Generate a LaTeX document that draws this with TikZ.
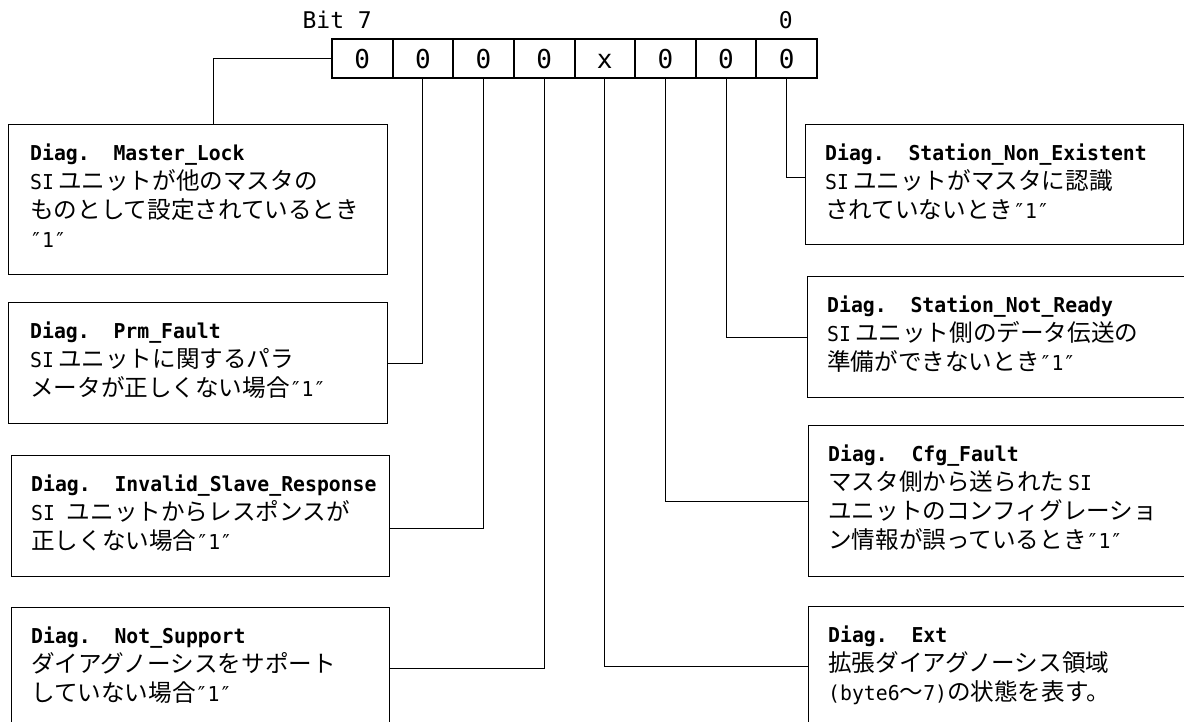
\documentclass[tikz,border=0pt]{standalone}
\usepackage{fontspec}
\setmainfont{DejaVu Sans Mono}
\newfontfamily\jpfont{Noto Sans CJK JP}
\newfontfamily\monofont[FakeStretch=0.965]{DejaVu Sans Mono}
\newfontfamily\regfont{DejaVu Sans Mono}
\newcommand\jtxt[1]{{\jpfont\fontsize{23.6}{29}\selectfont #1}}
\newcommand\fstrut{\rule{0pt}{20pt}}
\newcommand\sgap{\hspace{4pt}}
\begin{document}
\begin{tikzpicture}[x=1pt,y=-1pt,
  reg/.style={draw, line width=2pt, minimum width=60.625pt, minimum height=39pt,
    inner sep=0pt, anchor=north west, text height=21pt, text depth=0pt,
    font=\regfont\fontsize{26}{26}\selectfont},
  lbl/.style={inner sep=0pt, font=\regfont\fontsize{23}{23}\selectfont},
  box/.style={draw, line width=1.2pt, inner sep=0pt, anchor=north west},
  txt/.style={anchor=north west, inner sep=0pt, align=left,
    font=\monofont\fontsize{20.5}{29}\selectfont},
  conn/.style={line width=0.9pt}]
\useasboundingbox (0,0) rectangle (1184,722);
\clip (0,0) rectangle (1184,722);

% register
\foreach \v [count=\i from 0] in {0,0,0,0,x,0,0,0} {
  \pgfmathtruncatemacro\b{7-\i}
  \node[reg] (c\b) at ({331+\i*60.625},38) {\v};
}
\node[lbl, anchor=base east] (bit7) at (372,29) {Bit 7};
\node[lbl, anchor=base] (bit0) at (785.7,29) {0};

% left boxes
\node[box, minimum width=379pt, minimum height=150pt] (ml) at (8,124) {};
\node[box, minimum width=379pt, minimum height=121pt] (pf) at (8,302) {};
\node[box, minimum width=378pt, minimum height=121pt] (isr) at (11,455) {};
\node[box, minimum width=378pt, minimum height=150pt] (ns) at (11,607) {};
% right boxes
\node[box, minimum width=378pt, minimum height=120pt] (sne) at (805,124) {};
\node[box, minimum width=400pt, minimum height=121pt] (snr) at (807,276) {};
\node[box, minimum width=400pt, minimum height=151pt] (cf) at (808,425) {};
\node[box, minimum width=400pt, minimum height=150pt] (ext) at (808,606) {};

% texts
\node[txt] (mlt) at (30,140) {\fstrut{\bfseries Diag.\ \ Master\_Lock}\\
  SI\sgap\jtxt{ユニットが他のマスタの}\\
  \jtxt{ものとして設定されているとき}\\
  ″1″};
\node[txt] (pft) at (30,318) {\fstrut{\bfseries Diag.\ \ Prm\_Fault}\\
  SI\sgap\jtxt{ユニットに関するパラ}\\
  \jtxt{メータが正しくない場合}″1″};
\node[txt] (isrt) at (31,471) {\fstrut{\bfseries Diag.\ \ Invalid\_Slave\_Response}\\
  SI\ \jtxt{ユニットからレスポンスが}\\
  \jtxt{正しくない場合}″1″};
\node[txt] (nst) at (31,623) {\fstrut{\bfseries Diag.\ \ Not\_Support}\\
  \jtxt{ダイアグノーシスをサポート}\\
  \jtxt{していない場合}″1″};
\node[txt] (snet) at (825,140) {\fstrut{\bfseries Diag.\ \ Station\_Non\_Existent}\\
  SI\sgap\jtxt{ユニットがマスタに認識}\\
  \jtxt{されていないとき}″1″};
\node[txt] (snrt) at (827,292) {\fstrut{\bfseries Diag.\ \ Station\_Not\_Ready}\\
  SI\sgap\jtxt{ユニット側のデータ伝送の}\\
  \jtxt{準備ができないとき}″1″};
\node[txt] (cft) at (828,441) {\fstrut{\bfseries Diag.\ \ Cfg\_Fault}\\
  \jtxt{マスタ側から送られた}\sgap SI\\
  \jtxt{ユニットのコンフィグレーショ}\\
  \jtxt{ン情報が誤っているとき}″1″};
\node[txt] (extt) at (828,622) {\fstrut{\bfseries Diag.\ \ Ext}\\
  \jtxt{拡張ダイアグノーシス領域}\\
  (byte6\jtxt{～}7)\jtxt{の状態を表す。}};

% connectors
\draw[conn] (c7.west) -| ([xshift=15.5pt]ml.north);
\draw[conn] (c6.south) |- (pf.east);
\draw[conn] (c5.south) |- ([yshift=-73pt]isr.north east);
\draw[conn] (c4.south) |- ([yshift=-61pt]ns.north east);
\draw[conn] (c3.south) |- ([yshift=-60pt]ext.north west);
\draw[conn] (c2.south) |- (cf.west);
\draw[conn] (c1.south) |- (snr.west);
\draw[conn] (c0.south) |- ([yshift=-53pt]sne.north west);
\end{tikzpicture}
\end{document}
